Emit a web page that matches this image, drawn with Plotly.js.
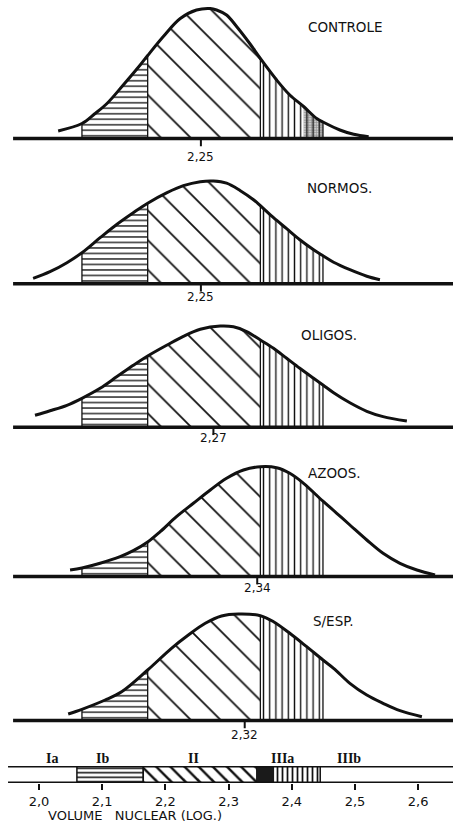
<!DOCTYPE html>
<html><head><meta charset="utf-8">
<script src="https://cdn.plot.ly/plotly-3.0.1.min.js"></script>
<style>html,body{margin:0;padding:0;background:#fff;}#chart{width:453px;height:837px;}</style>
</head><body><div id="chart"></div>
<script>
// ---------- data ----------
const groups = ['CONTROLE', 'NORMOS.', 'OLIGOS.', 'AZOOS.', 'S/ESP.'];
const means = [2.25, 2.25, 2.27, 2.34, 2.32];
const meanLabels = ['2,25', '2,25', '2,27', '2,34', '2,32'];
const classBounds = [2.06, 2.165, 2.345, 2.445];
const classNames = ['Ia', 'Ib', 'II', 'IIIa', 'IIIb'];
const classLabelX = [2.02, 2.10, 2.245, 2.385, 2.49];
const tickVals = [2.0, 2.1, 2.2, 2.3, 2.4, 2.5, 2.6];
const tickText = ['2,0', '2,1', '2,2', '2,3', '2,4', '2,5', '2,6'];
const controleDense = [2.414, 2.445];   // darker stippled part of class IIIa (CONTROLE)
const barDarkIIIa = [2.345, 2.372];     // dark part of class IIIa in the scale bar

const xControle = [2.022, 2.06, 2.08, 2.100, 2.126, 2.153, 2.165, 2.190, 2.217, 2.243, 2.265, 2.275, 2.291, 2.307, 2.328, 2.345, 2.371, 2.392, 2.414, 2.435, 2.445, 2.472, 2.494, 2.518];
const yControle = [7.5, 15, 24.5, 35, 53.5, 73.5, 83, 102, 120, 128.5, 130, 128.5, 123.5, 112, 95, 80, 58.5, 43.5, 32, 20, 16.5, 8.5, 4.2, 1.8];

const xNormos = [1.982, 2.009, 2.036, 2.06, 2.089, 2.116, 2.142, 2.165, 2.196, 2.222, 2.249, 2.270, 2.291, 2.313, 2.334, 2.345, 2.366, 2.387, 2.408, 2.430, 2.445, 2.462, 2.488, 2.515, 2.536];
const yNormos = [5.3, 12, 21, 31, 46, 59.5, 71, 80.5, 91, 98, 102, 102.7, 100.5, 93, 84, 78, 66, 55, 44, 34, 28, 21.5, 14, 7.5, 4];

const xOligos = [1.985, 2.009, 2.036, 2.06, 2.089, 2.116, 2.142, 2.165, 2.196, 2.222, 2.249, 2.281, 2.302, 2.323, 2.345, 2.366, 2.387, 2.408, 2.430, 2.445, 2.462, 2.488, 2.515, 2.541, 2.579];
const yOligos = [12, 16.5, 22, 29, 39, 50.7, 62, 71.3, 82.3, 91, 98, 101.3, 100.5, 95.7, 87.3, 79, 69, 59, 49, 42.3, 34.5, 24.5, 16, 10.7, 6.3];

const xAzoos = [2.041, 2.06, 2.089, 2.121, 2.142, 2.165, 2.185, 2.211, 2.238, 2.265, 2.291, 2.318, 2.345, 2.371, 2.392, 2.414, 2.445, 2.467, 2.488, 2.515, 2.541, 2.568, 2.595, 2.624];
const yAzoos = [6.5, 8.5, 13.2, 19.8, 25.8, 34.5, 44.8, 59.8, 73.2, 86.5, 98.2, 106.5, 109.8, 108.8, 103.2, 93.2, 75.3, 63.2, 51.5, 36.5, 23.2, 13.2, 6.5, 1.5];

const xSemEsp = [2.038, 2.06, 2.097, 2.124, 2.165, 2.203, 2.230, 2.257, 2.283, 2.310, 2.345, 2.366, 2.392, 2.419, 2.445, 2.462, 2.488, 2.515, 2.541, 2.568, 2.603];
const ySemEsp = [6.5, 11.2, 20.5, 29, 50.5, 72.2, 85.5, 97.2, 104.5, 106.5, 104.8, 98.8, 87.2, 73.8, 60.5, 52.2, 37.2, 25.5, 17.2, 9.8, 3.8];

const curvesX = [xControle, xNormos, xOligos, xAzoos, xSemEsp];
const curvesY = [yControle, yNormos, yOligos, yAzoos, ySemEsp];

// ---------- layout helpers ----------
const W = 453, H = 837;
const baselinePx = [138.5, 283.7, 427.3, 576.5, 720.5];
const meanLabelPx = [157, 297, 438, 588, 735];
const namePx = [[345, 27], [339, 188], [329, 335], [334, 473], [333, 621]];
const yRange = [-8, 132];
const ink = '#111';
const patShapes = ['-', '\\', '|'];
const patSizes = [5.5, 21, 6.2];
const patSolid = [0.24, 0.085, 0.22];

const traces = [];
const layout = {
  width: W, height: H, margin: {l: 0, r: 0, t: 0, b: 0},
  paper_bgcolor: '#fff', plot_bgcolor: 'rgba(0,0,0,0)', showlegend: false,
  xaxis: {range: [1.9383, 2.6551], domain: [0, 1], anchor: 'y6', tickvals: tickVals, ticktext: tickText,
    ticks: 'outside', ticklen: 6, tickwidth: 2, tickcolor: ink, showgrid: false, zeroline: false, showline: false,
    tickfont: {family: 'DejaVu Sans', size: 13, color: ink}, fixedrange: true},
  xaxis2: {range: [1.9291, 2.6527], domain: [0, 1], anchor: 'y', visible: false, fixedrange: true},
  yaxis6: {domain: [1 - 783 / H, 1 - 766 / H], range: [0, 1], visible: false, anchor: 'x', fixedrange: true},
  annotations: []
};

function hAt(xs, ys, v) { return ys[xs.indexOf(v)]; }
function segment(xs, ys, a, b) {
  const sx = [], sy = [];
  xs.forEach((v, j) => { if (v >= a && v <= b) { sx.push(v); sy.push(ys[j]); } });
  return [sx, sy];
}

curvesX.forEach((xs, k) => {
  const ys = curvesY[k];
  const yName = k === 0 ? 'y' : 'y' + (k + 1);
  const yKey = k === 0 ? 'yaxis' : 'yaxis' + (k + 1);
  const yb = baselinePx[k];
  layout[yKey] = {domain: [1 - (yb - yRange[0]) / H, 1 - (yb - yRange[1]) / H], range: yRange,
    visible: false, anchor: 'x2', fixedrange: true};
  const base = {xaxis: 'x2', yaxis: yName, mode: 'lines', hoverinfo: 'skip', showlegend: false};
  // hatched class regions
  for (let i = 0; i < 3; i++) {
    const [sx, sy] = segment(xs, ys, classBounds[i], classBounds[i + 1]);
    traces.push(Object.assign({}, base, {x: sx, y: sy, fill: 'tozeroy', line: {width: 0, shape: 'spline'},
      fillcolor: 'rgba(255,255,255,0)',
      fillpattern: {shape: patShapes[i], size: patSizes[i], solidity: patSolid[i], fgcolor: ink, bgcolor: '#fff'}}));
  }
  if (k === 0) {
    const [sx, sy] = segment(xs, ys, controleDense[0], controleDense[1]);
    traces.push(Object.assign({}, base, {x: sx, y: sy, fill: 'tozeroy', line: {width: 0, shape: 'spline'},
      fillcolor: 'rgba(255,255,255,0)',
      fillpattern: {shape: '.', size: 2.5, solidity: 0.7, fgcolor: '#222', fillmode: 'overlay'}}));
  }
  // boundary verticals
  classBounds.forEach(b => {
    traces.push(Object.assign({}, base, {x: [b, b], y: [0, hAt(xs, ys, b)], line: {width: 1.3, color: ink}}));
  });
  // baseline
  traces.push(Object.assign({}, base, {x: [1.95, 2.66], y: [0, 0], line: {width: 3.5, color: ink}}));
  // mean tick
  traces.push(Object.assign({}, base, {x: [means[k], means[k]], y: [0, -8], line: {width: 2, color: ink}}));
  // curve
  traces.push(Object.assign({}, base, {x: xs, y: ys, line: {width: 3, color: ink, shape: 'spline', smoothing: 1}}));
  // texts
  layout.annotations.push({xref: 'x2', yref: 'paper', x: means[k], y: 1 - meanLabelPx[k] / H, text: meanLabels[k],
    showarrow: false, xanchor: 'center', yanchor: 'middle', font: {family: 'DejaVu Sans', size: 12, color: ink}});
  layout.annotations.push({xref: 'paper', yref: 'paper', x: namePx[k][0] / W, y: 1 - namePx[k][1] / H, text: groups[k],
    showarrow: false, xanchor: 'center', yanchor: 'middle', font: {family: 'DejaVu Sans', size: 13.5, color: ink}});
});

// ---------- bottom class bar ----------
const bb = {xaxis: 'x', yaxis: 'y6', mode: 'lines', hoverinfo: 'skip', showlegend: false};
for (let i = 0; i < 3; i++) {
  const a = classBounds[i], b = classBounds[i + 1];
  traces.push(Object.assign({}, bb, {x: [a, b, b, a, a], y: [0, 0, 1, 1, 0], fill: 'toself',
    fillcolor: 'rgba(255,255,255,0)', line: {width: 1.5, color: ink},
    fillpattern: {shape: patShapes[i], size: [4.5, 10, 5][i], solidity: [0.35, 0.25, 0.35][i], fgcolor: ink, bgcolor: '#fff'}}));
}
traces.push(Object.assign({}, bb, {x: [barDarkIIIa[0], barDarkIIIa[1], barDarkIIIa[1], barDarkIIIa[0], barDarkIIIa[0]],
  y: [0, 0, 1, 1, 0], fill: 'toself', fillcolor: '#1a1a1a', line: {width: 0}}));
traces.push(Object.assign({}, bb, {x: [1.951, 2.66], y: [1, 1], line: {width: 3, color: ink}}));
traces.push(Object.assign({}, bb, {x: [1.951, 2.66], y: [0, 0], line: {width: 3, color: ink}}));
classNames.forEach((c, i) => {
  layout.annotations.push({xref: 'x', yref: 'paper', x: classLabelX[i], y: 1 - 758 / H, text: '<b>' + c + '</b>',
    showarrow: false, xanchor: 'center', yanchor: 'middle', font: {family: 'Liberation Serif', size: 14, color: ink}});
});
layout.annotations.push({xref: 'paper', yref: 'paper', x: 135 / W, y: 1 - 815 / H,
  text: 'VOLUME\u00a0\u00a0 NUCLEAR (LOG.)', showarrow: false, xanchor: 'center', yanchor: 'middle',
  font: {family: 'DejaVu Sans', size: 13, color: ink}});

Plotly.newPlot('chart', traces, layout, {displayModeBar: false, staticPlot: true});
</script>
</body></html>
